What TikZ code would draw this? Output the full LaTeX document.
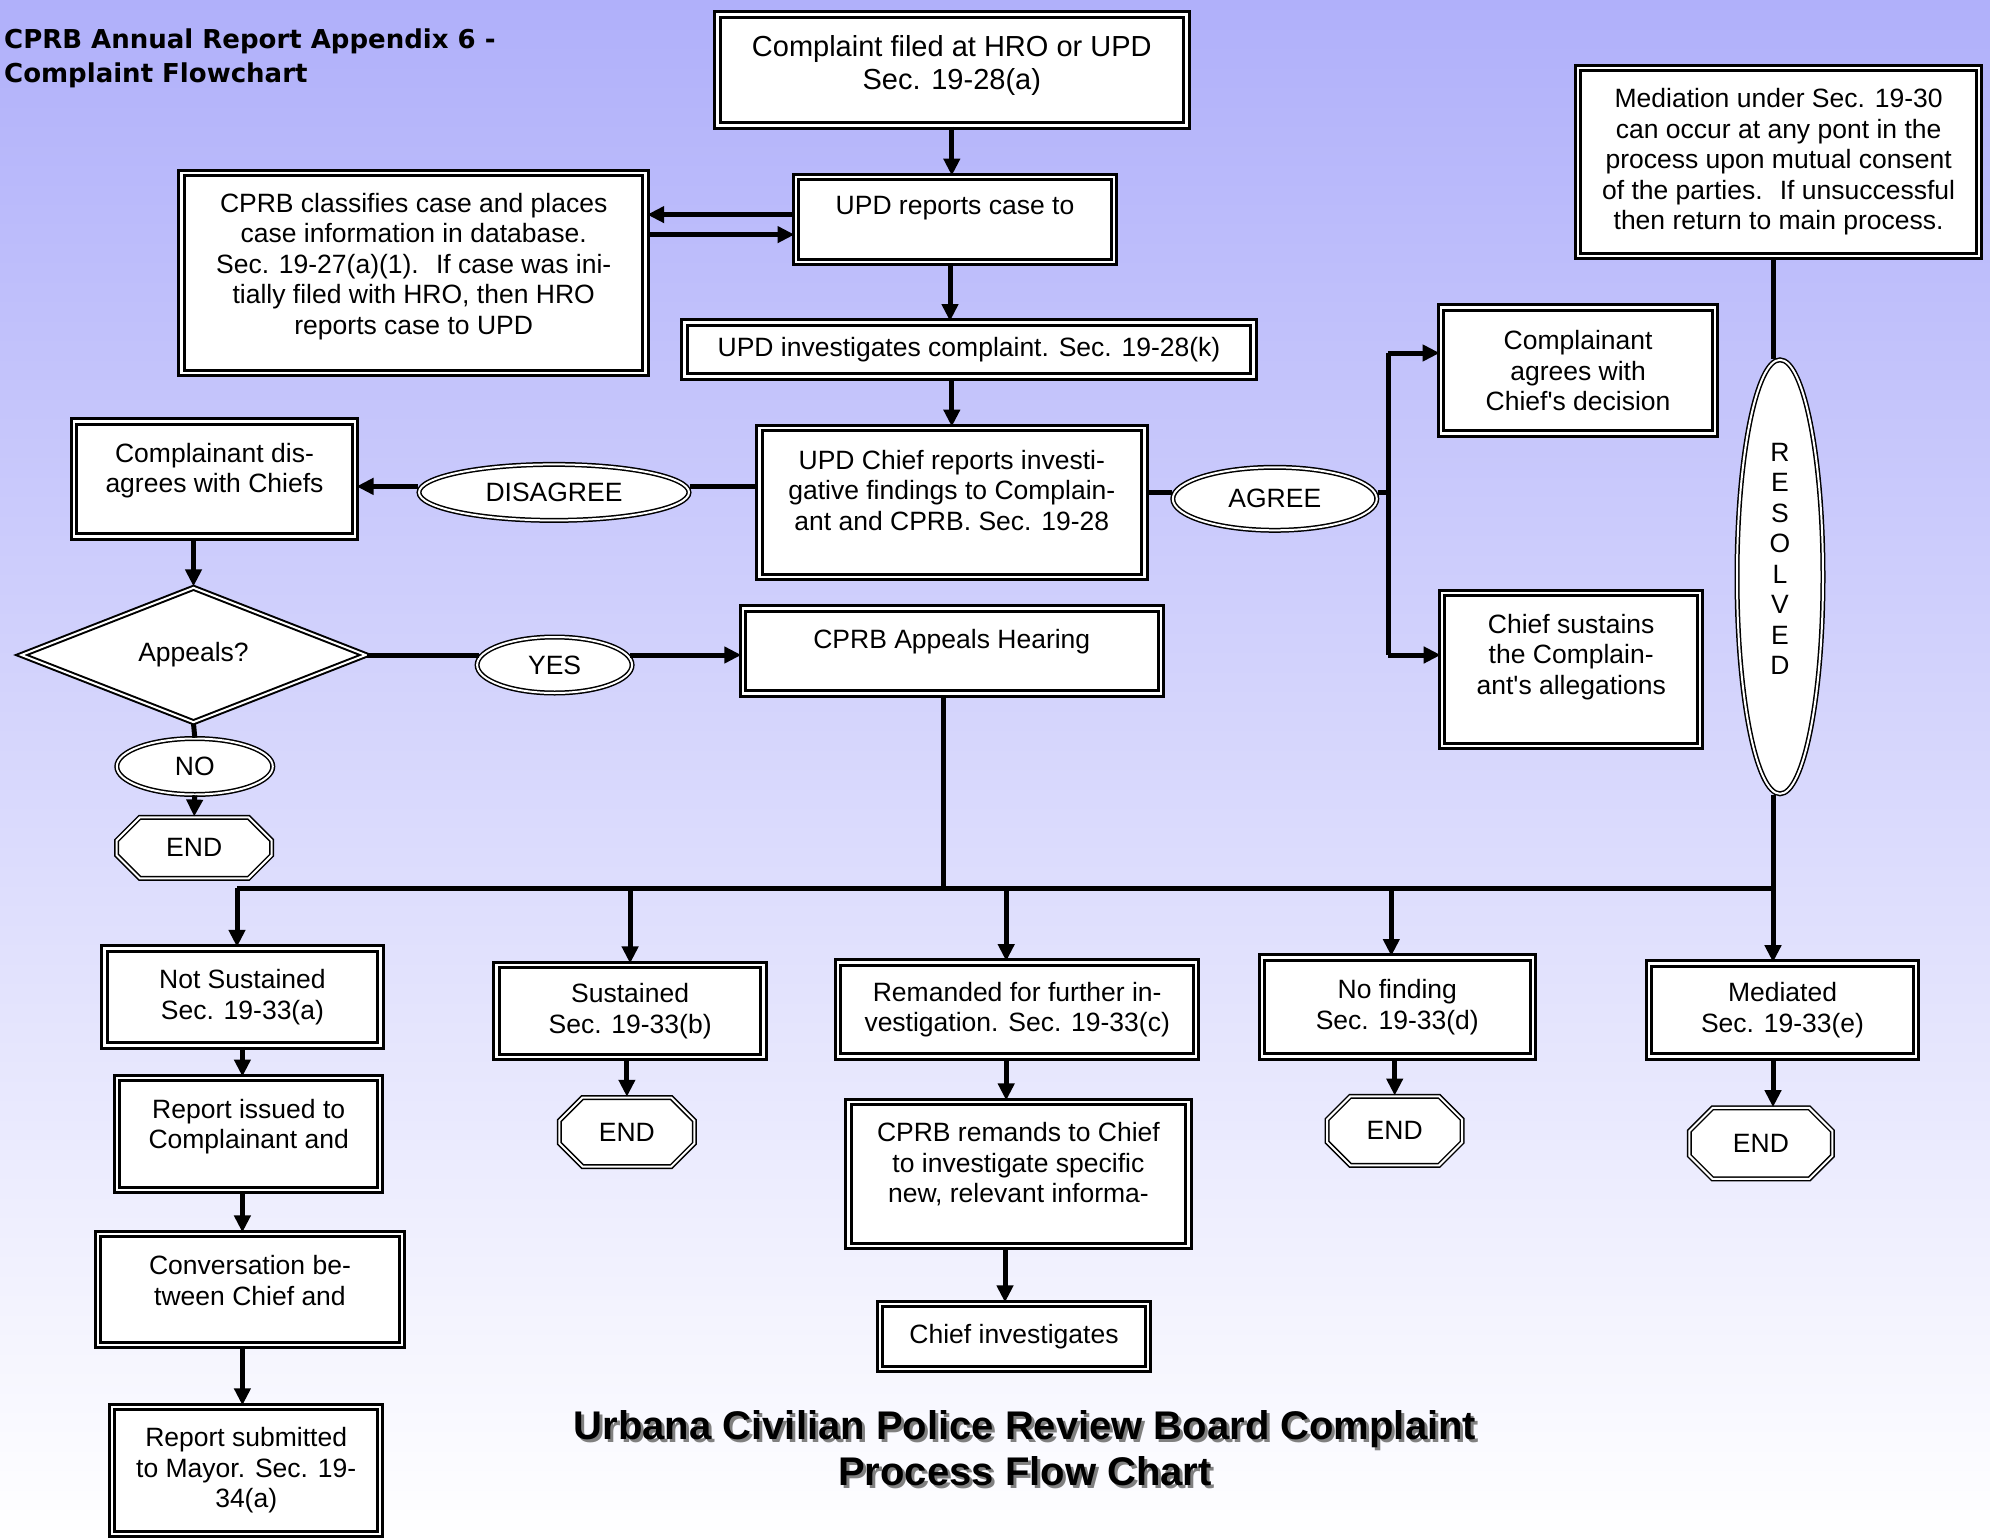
\documentclass[tikz,border=0pt]{standalone}
\usepackage{fontspec}
\setmainfont{Liberation Sans}
\newfontfamily\cornerfont{DejaVu Sans}
\usepackage{tikz}
\usetikzlibrary{positioning,shapes.geometric,shapes.misc,arrows.meta}

\newcommand{\flowfont}{\fontsize{26.5}{30.5}\selectfont}
\newcommand{\bigflowfont}{\fontsize{29}{33}\selectfont}
\definecolor{lavender}{RGB}{176,176,250}
\definecolor{shadowgrey}{RGB}{128,128,128}

\tikzset{
  box/.style={rectangle, draw, fill=white, line width=3pt, double=white, double distance=2.5pt, inner sep=0pt, align=center, font=\flowfont},
  choice/.style={ellipse, draw, fill=white, line width=1.5pt, double=white, double distance=2pt, inner sep=0pt, align=center, font=\flowfont},
  endbox/.style={chamfered rectangle, chamfered rectangle xsep=14pt, chamfered rectangle ysep=14pt, draw, fill=white, line width=1.5pt, double=white, double distance=2pt, inner sep=0pt, font=\flowfont},
  decision/.style={diamond, draw, fill=white, line width=2pt, double=white, double distance=2pt, inner sep=0pt, font=\flowfont},
  flow/.style={line width=5pt, -{Triangle[length=17pt,width=16pt]}},
  wire/.style={line width=5pt},
}

\begin{document}
\begin{tikzpicture}[x=1pt, y=-1pt]
        \shade[top color=lavender, bottom color=white] (0,0) rectangle (1990,1539);
        \useasboundingbox (0,0) rectangle (1990,1539);

        \node[anchor=north west, inner sep=0pt, align=left, font=\cornerfont\bfseries\fontsize{26}{34}\selectfont] (heading) at (4,29) {CPRB Annual Report Appendix 6 -\\Complaint Flowchart};

        \node[box, minimum width=469pt, minimum height=111pt, font=\bigflowfont] (complaint) at (951.8,69.8) {Complaint filed at HRO or UPD\\Sec. 19-28(a)\\[-18pt]};
        \node[box, minimum width=318pt, minimum height=85pt] (updrep) at (955,219.6) {UPD reports case to\\[-2.5pt]};
        \node[box, minimum width=464pt, minimum height=200pt] (cprbcls) at (413.7,272.8) {CPRB classifies case and places\\case information in database.\\Sec. 19-27(a)(1).~ If case was ini-\\tially filed with HRO, then HRO\\reports case to UPD\\[-12.5pt]};
        \node[box, minimum width=569pt, minimum height=54pt] (updinv) at (969,349.6) {UPD investigates complaint. Sec. 19-28(k)};
        \node[box, minimum width=385pt, minimum height=149pt] (chief) at (951.8,502.6) {UPD Chief reports investi-\\gative findings to Complain-\\ant and CPRB. Sec. 19-28\\[-5.5pt]};
        \node[box, minimum width=281pt, minimum height=115pt] (disagrees) at (214.5,479.1) {Complainant dis-\\agrees with Chiefs\\[-8pt]};
        \node[decision, minimum width=345pt, minimum height=125pt] (appeals) at (193.5,655) {Appeals?};
        \node[box, minimum width=418pt, minimum height=85pt] (hearing) at (951.8,651) {CPRB Appeals Hearing\\[-5.5pt]};
        \node[box, minimum width=274pt, minimum height=126pt] (agrees) at (1578.1,370.6) {Complainant\\agrees with\\Chief\textquotesingle s decision};
        \node[box, minimum width=258pt, minimum height=153pt] (sustains) at (1571.2,669.4) {Chief sustains\\the Complain-\\ant\textquotesingle s allegations\\[0pt]};
        \node[box, minimum width=401pt, minimum height=188pt] (mediation) at (1778.6,161.8) {Mediation under Sec. 19-30\\can occur at any pont in the\\process upon mutual consent\\of the parties.~ If unsuccessful\\then return to main process.};
        \node[choice, minimum width=86pt, minimum height=434pt] (resolved) at (1780,576.8) {R\\E\\S\\O\\L\\V\\E\\D\\[5pt]};

        \node[choice, minimum width=270pt, minimum height=56pt] (disagree) at (554,492.4) {DISAGREE};
        \node[choice, minimum width=204pt, minimum height=63pt] (agree) at (1274.8,498.8) {AGREE};
        \node[choice, minimum width=155pt, minimum height=56pt] (yes) at (554.6,665) {YES};
        \node[choice, minimum width=156pt, minimum height=56pt] (no) at (194.8,766.5) {NO};
        \node[endbox, minimum width=155pt, minimum height=61pt] (enda) at (194.2,847.8) {END};

        \node[box, minimum width=276pt, minimum height=97pt] (notsust) at (242.4,996.9) {Not Sustained\\Sec. 19-33(a)};
        \node[box, minimum width=267pt, minimum height=92pt] (sust) at (630.1,1010.9) {Sustained\\Sec. 19-33(b)};
        \node[box, minimum width=358pt, minimum height=94pt] (remand) at (1017.2,1009.6) {Remanded for further in-\\vestigation. Sec. 19-33(c)};
        \node[box, minimum width=271pt, minimum height=99pt] (nofind) at (1397.3,1007) {No finding\\Sec. 19-33(d)};
        \node[box, minimum width=267pt, minimum height=93pt] (mediated) at (1782.5,1010.2) {Mediated\\Sec. 19-33(e)};

        \node[endbox, minimum width=135pt, minimum height=69pt] (endb) at (626.9,1132) {END};
        \node[endbox, minimum width=135pt, minimum height=69pt] (endd) at (1394.7,1130.8) {END};
        \node[endbox, minimum width=143pt, minimum height=71pt] (ende) at (1760.9,1143.4) {END};

        \node[box, minimum width=263pt, minimum height=112pt] (issued) at (248.7,1134) {Report issued to\\Complainant and\\[-10pt]};
        \node[box, minimum width=304pt, minimum height=111pt] (convo) at (250,1289.4) {Conversation be-\\tween Chief and\\[-12.5pt]};
        \node[box, minimum width=268pt, minimum height=127pt] (submitted) at (246.2,1470.3) {Report submitted\\to Mayor. Sec. 19-\\34(a)};
        \node[box, minimum width=340pt, minimum height=144pt] (remands) at (1018.4,1173.9) {CPRB remands to Chief\\to investigate specific\\new, relevant informa-\\[-7.5pt]};
        \node[box, minimum width=268pt, minimum height=65pt] (chiefinv) at (1014,1336.4) {Chief investigates};

        \node[align=center, text=shadowgrey, font=\bfseries\fontsize{40}{46}\selectfont] (titleshadow) at (1028,1451) {Urbana Civilian Police Review Board Complaint\\Process Flow Chart};
        \node[align=center, font=\bfseries\fontsize{40}{46}\selectfont] (title) at (1025,1448) {Urbana Civilian Police Review Board Complaint\\Process Flow Chart};

        \coordinate (upA) at ([yshift=5pt]updrep.west);
        \coordinate (upB) at ([yshift=-15pt]updrep.west);
        \coordinate (disE) at ([yshift=6pt]disagree.east);
        \coordinate (disW) at ([yshift=6pt]disagree.west);
        \coordinate (agW) at ([yshift=6pt]agree.west);
        \coordinate (agE) at ([yshift=6pt]agree.east);
        \coordinate (yesW) at ([xshift=3pt,yshift=10pt]yes.west);
        \coordinate (yesE) at ([xshift=-3pt,yshift=10pt]yes.east);
        \coordinate (forktop) at (1388,353);
        \coordinate (forkbot) at (1388,655);
        \coordinate (busleft) at (237,888);
        \coordinate (busright) at (1773,888);

        \draw[flow] (complaint.south) -- (complaint.south |- updrep.north);
        \draw[flow] (upA) -- (upA -| cprbcls.east);
        \draw[flow] (upB -| cprbcls.east) -- (upB);
        \draw[flow] ([xshift=-5pt]updrep.south) -- ([xshift=-5pt]updrep.south |- updinv.north);
        \draw[flow] (chief.north |- updinv.south) -- (chief.north);
        \draw[wire] (chief.west |- disE) -- (disE);
        \draw[flow] (disW) -- (disW -| disagrees.east);
        \draw[wire] (chief.east |- agW) -- (agW);
        \draw[wire] (agE) -- (agE -| forktop);
        \draw[wire] (forktop) -- (forkbot);
        \draw[flow] (forktop) -- (forktop -| agrees.west);
        \draw[flow] (forkbot) -- (forkbot -| sustains.west);
        \draw[flow] (appeals.north |- disagrees.south) -- (appeals.north);
        \draw[wire] (appeals.east) -- (yesW);
        \draw[flow] (yesE) -- (yesE -| hearing.west);
        \draw[wire] (appeals.south) -- (no.north);
        \draw[flow] (no.south) -- (enda.north);
        \draw[wire] (mediation.south -| busright) -- (resolved.north -| busright);
        \draw[flow] (resolved.south -| busright) -- (mediated.north -| busright);
        \draw[wire] ([xshift=-8pt]hearing.south) -- ([xshift=-8pt]hearing.south |- busleft);
        \draw[wire] (busleft) -- (busright);
        \draw[flow] (busleft) -- (busleft |- notsust.north);
        \draw[flow] (sust.north |- busleft) -- (sust.north);
        \draw[flow] ([xshift=-11pt]remand.north |- busleft) -- ([xshift=-11pt]remand.north);
        \draw[flow] ([xshift=-6pt]nofind.north |- busleft) -- ([xshift=-6pt]nofind.north);
        \draw[flow] (notsust.south) -- (notsust.south |- issued.north);
        \draw[flow] (notsust.south |- issued.south) -- (notsust.south |- convo.north);
        \draw[flow] (notsust.south |- convo.south) -- (notsust.south |- submitted.north);
        \draw[flow] (endb.north |- sust.south) -- (endb.north);
        \draw[flow] ([xshift=-11pt]remand.south) -- ([xshift=-11pt]remand.south |- remands.north);
        \draw[flow] ([xshift=-9pt]chiefinv.north |- remands.south) -- ([xshift=-9pt]chiefinv.north);
        \draw[flow] (endd.north |- nofind.south) -- (endd.north);
        \draw[flow] (mediated.south -| busright) -- (ende.north -| busright);
      \end{tikzpicture}
\end{document}
